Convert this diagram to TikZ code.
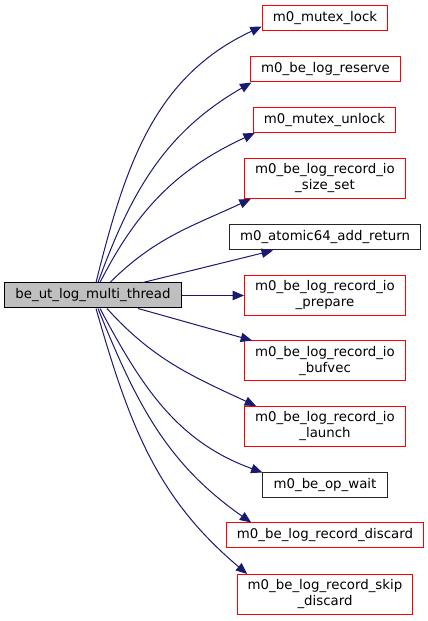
\documentclass[tikz,border=0pt]{standalone}
\usepackage{fontspec}
\setmainfont{DejaVu Sans}
\usetikzlibrary{arrows.meta, positioning}
\definecolor{edgeblue}{HTML}{191970}
\definecolor{mainfill}{HTML}{BFBFBF}

\begin{document}
\begin{tikzpicture}[x=0.75pt, y=0.75pt,
  box/.style={draw, line width=0.75pt, inner xsep=8pt, inner ysep=2pt,
              minimum height=18.75pt, align=center, fill=white,
              font=\fontsize{10}{12}\selectfont},
  mainbox/.style={box, fill=mainfill, draw=black},
  fnbox/.style={box, draw=red},
  extbox/.style={box, draw=black!85},
  twoline/.style={minimum height=30pt},
  arrow/.style={-{Triangle[length=8.5pt, width=7pt]}, line width=0.75pt, draw=edgeblue}
]
\useasboundingbox (0,0) rectangle (428,621);

\node[mainbox] (main) at (93,325.5) {be\_ut\_log\_multi\_thread};

\node[fnbox] (lock)     at (325,602.5) {m0\_mutex\_lock};
\node[fnbox] (reserve)  at (325.5,551.5) {m0\_be\_log\_reserve};
\node[fnbox] (unlock)   at (324.5,501) {m0\_mutex\_unlock};
\node[fnbox, twoline] (sizeset) at (325,442.5) {m0\_be\_log\_record\_io\\\_size\_set};
\node[extbox] (atomic)  at (325,383.5) {m0\_atomic64\_add\_return};
\node[fnbox, twoline] (prepare) at (325,325.5) {m0\_be\_log\_record\_io\\\_prepare};
\node[fnbox, twoline] (bufvec)  at (325,260) {m0\_be\_log\_record\_io\\\_bufvec};
\node[fnbox, twoline] (launch)  at (325,194.5) {m0\_be\_log\_record\_io\\\_launch};
\node[extbox] (opwait)  at (325,135.5) {m0\_be\_op\_wait};
\node[fnbox] (discard)  at (325,85.5) {m0\_be\_log\_record\_discard};
\node[fnbox, twoline] (skipdiscard) at (325,26.5) {m0\_be\_log\_record\_skip\\\_discard};

% calls above the caller
\draw[arrow] ([xshift=2.25pt]main.north) to[out=76, in=205] ([yshift=-6pt]lock.west);
\draw[arrow] ([xshift=3.75pt]main.north) to[out=70, in=210] ([xshift=1pt]reserve.south west);
\draw[arrow] ([xshift=5.25pt]main.north) to[out=63, in=205] ([xshift=1.5pt]unlock.south west);
\draw[arrow] ([xshift=12.75pt]main.north) to[out=45, in=205] ([xshift=5pt]sizeset.south west);
\draw[arrow] ([xshift=37.5pt]main.north) -- ([xshift=33pt]atomic.south west);

\draw[arrow] (main.east) -- (prepare.west);

% calls below the caller
\draw[arrow] ([xshift=33.75pt]main.south) -- ([xshift=6pt]bufvec.north west);
\draw[arrow] ([xshift=10.5pt]main.south) to[out=-48, in=155] ([xshift=9pt]launch.north west);
\draw[arrow] ([xshift=5.25pt]main.south) to[out=-62, in=160] (opwait.north west);
\draw[arrow] ([xshift=3.75pt]main.south) to[out=-68, in=145] ([xshift=19pt]discard.north west);
\draw[arrow] ([xshift=2.25pt]main.south) to[out=-74, in=140] ([xshift=8pt]skipdiscard.north west);

\end{tikzpicture}
\end{document}
